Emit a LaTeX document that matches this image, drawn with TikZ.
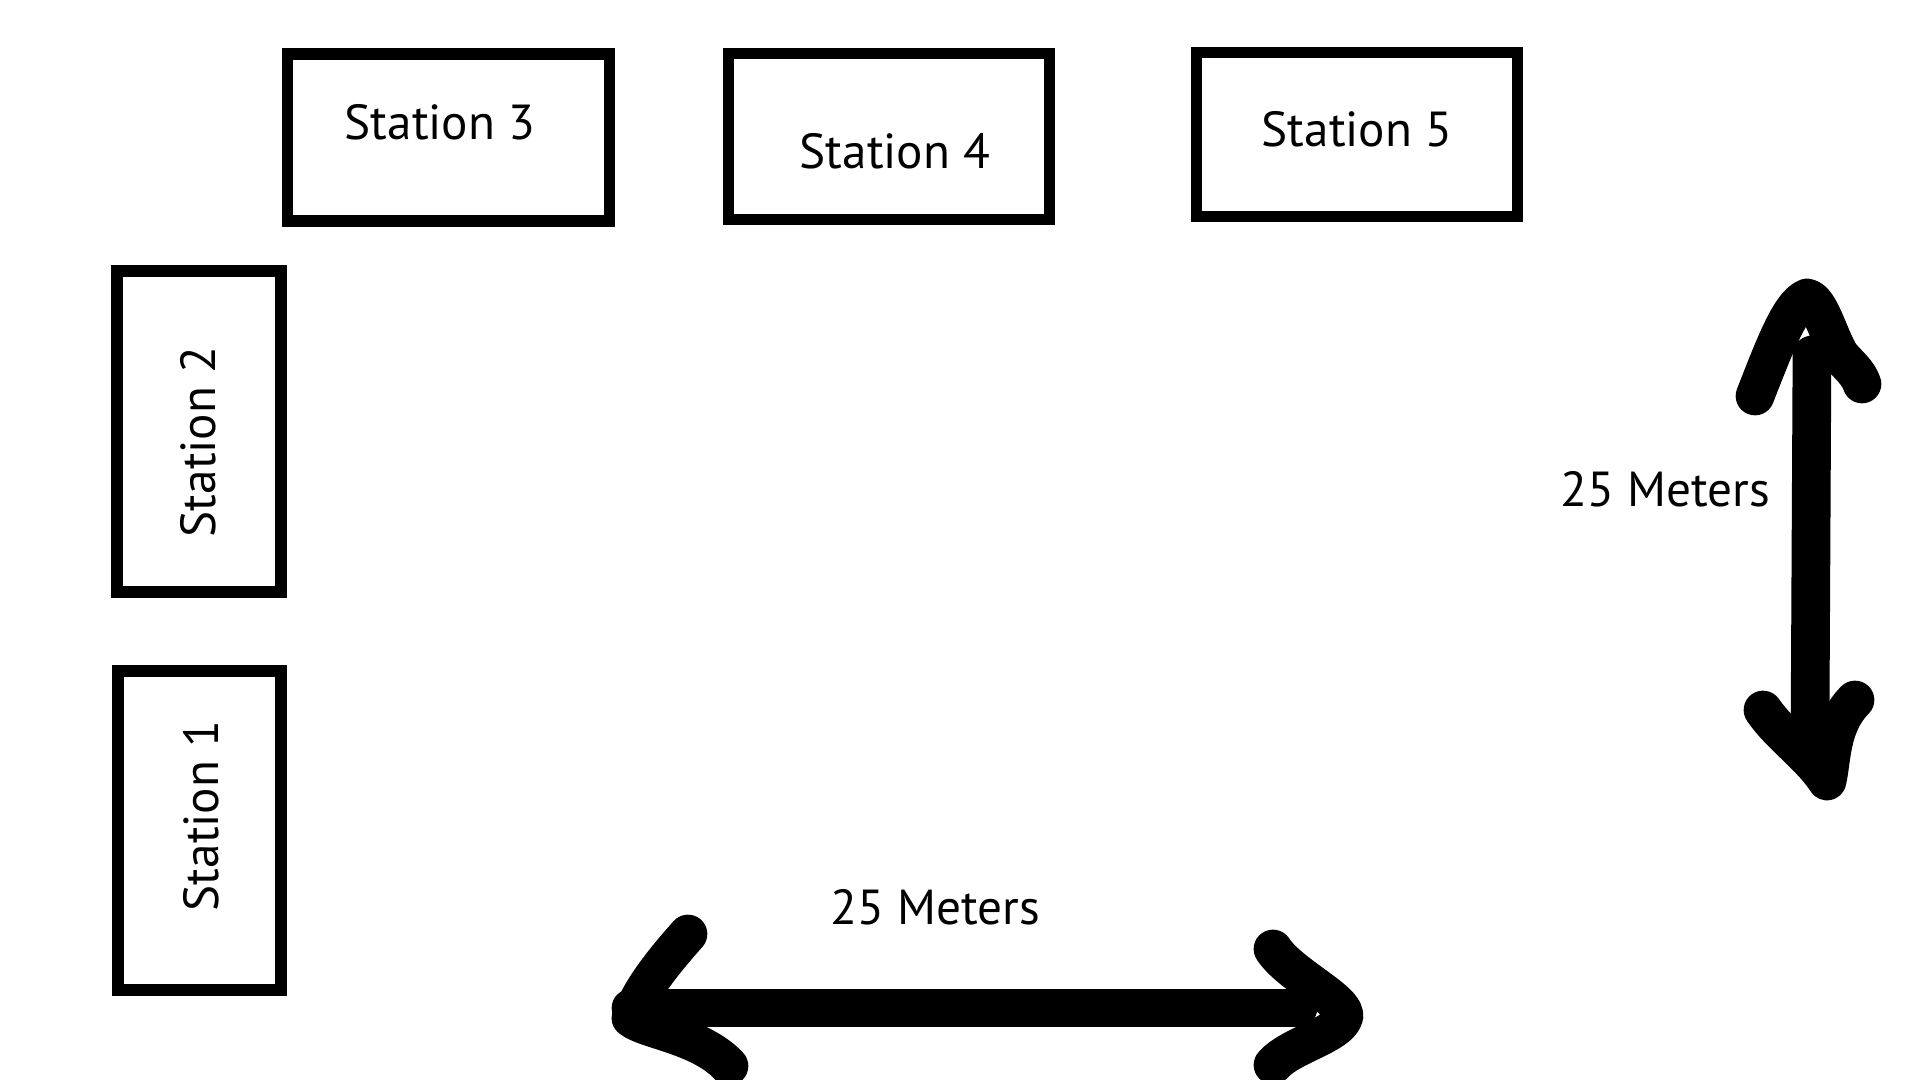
\documentclass[tikz,border=0pt]{standalone}
\usepackage{fontspec}
\setmainfont{PT Sans}
\tikzset{
  stationbox/.style={draw=black,line width=3.3pt,inner sep=0pt},
  stationtext/.style={font=\fontsize{14}{16}\selectfont,inner sep=0pt},
  handarrow/.style={black,line width=11pt,line cap=round,line join=round}
}
\begin{document}
\begin{tikzpicture}[x=0.01cm,y=-0.01cm]
\useasboundingbox (0,0) rectangle (1920,1080);
\foreach\n/\cx/\cy/\w/\h in {1/199.5/830.5/1.63/3.19,2/199/431.5/1.64/3.21,3/448.5/137.5/3.22/1.67,4/889/136.5/3.21/1.66,5/1357/134.5/3.21/1.64}
\node[stationbox,minimum width=\w cm,minimum height=\h cm] (box\n) at (\cx,\cy) {};
\node[stationtext,rotate=90] (t1) at (201,816) {Station 1};
\node[stationtext,rotate=90] (t2) at (198,442) {Station 2};
\node[stationtext] (t3) at (440,122) {Station 3};
\node[stationtext] (t4) at (895,151) {Station 4};
\node[stationtext] (t5) at (1357,129) {Station 5};

\coordinate (vtop) at (1812,355);
\coordinate (vbot) at (1810,735);
\draw[handarrow] (vtop) -- (vbot);
\draw[handarrow] (1755,396) .. controls (1775,345) and (1790,305) .. (1807,298) .. controls (1820,300) and (1828,335) .. (1840,355) .. controls (1848,365) and (1858,372) .. (1862,384);
\draw[handarrow] (1763,710) .. controls (1780,735) and (1810,755) .. (1827,781) .. controls (1832,760) and (1830,725) .. (1855,700);
\node[stationtext] (vlabel) at (1665,489) {25 Meters};

\coordinate (hleft) at (631,1008);
\coordinate (hright) at (1298,1008);
\draw[handarrow] (hleft) -- (hright);
\draw[handarrow] (688,934) .. controls (665,960) and (640,990) .. (631,1018) .. controls (645,1030) and (700,1035) .. (729,1066);
\draw[handarrow] (1273,949) .. controls (1290,975) and (1345,1000) .. (1344,1016) .. controls (1340,1035) and (1290,1045) .. (1273,1065);
\node[stationtext] (hlabel) at (935,907) {25 Meters};
\end{tikzpicture}
\end{document}
